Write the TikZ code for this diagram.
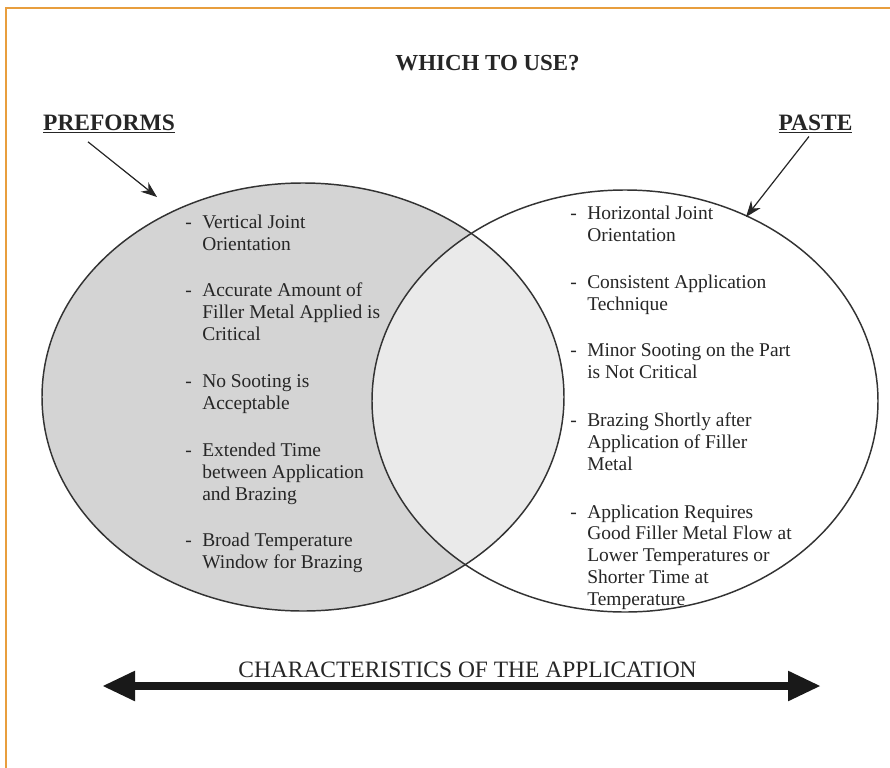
\documentclass[tikz,border=0pt]{standalone}
\usepackage{fontspec}
\setmainfont{Liberation Serif}
\usetikzlibrary{arrows.meta}

\definecolor{venngray}{RGB}{212,212,212}
\definecolor{overlapgray}{RGB}{234,234,234}
\definecolor{frameorange}{RGB}{232,158,62}

\newcommand{\dashitem}{\makebox[12.75pt][l]{-}}
\newcommand{\indentitem}{\hspace*{12.75pt}}

\begin{document}
\begin{tikzpicture}[x=0.75pt, y=-0.75pt,
	every node/.style={inner sep=0pt, text=black!85},
	heading/.style={anchor=base, font=\fontsize{17.6}{20}\selectfont\bfseries},
	point/.style={anchor=base west, align=left, font=\fontsize{14.6}{16.3}\selectfont},
	pointer/.style={-{Stealth[length=12pt,width=9pt]}, line width=0.9pt, black!85},
	ring/.style={draw=black!80, line width=1.1pt}]
					
					\clip (0,0) rectangle (890,768);
					\fill[white] (0,0) rectangle (890,768);
					\draw[frameorange, line width=1.5pt] (5.5,800) -- (5.5,7.5) -- (900,7.5);
					
					% the two sets, the common part a lighter gray
					\fill[venngray] (303,397) ellipse [x radius=261, y radius=214];
					\begin{scope}
						\clip (303,397) ellipse [x radius=261, y radius=214];
						\fill[overlapgray] (625,401) ellipse [x radius=253, y radius=211];
					\end{scope}
					\draw[ring] (303,397) ellipse [x radius=261, y radius=214];
					\draw[ring] (625,401) ellipse [x radius=253, y radius=211];
					
					\node[heading, font=\fontsize{17.2}{20}\selectfont\bfseries] (title) at (487.5,70) {WHICH TO USE?};
					\node[heading] (preforms) at (109,130) {\underline{PREFORMS}};
					\node[heading] (paste) at (815.5,130) {\underline{PASTE}};
					
					\coordinate (preformsTip) at (157,197);
					\coordinate (pasteTip) at (746,217);
					\draw[pointer] ([xshift=-15.75pt, yshift=-6.5pt]preforms.south) -- (preformsTip);
					\draw[pointer] ([xshift=-4.9pt, yshift=-2.5pt]paste.south) -- (pasteTip);
					
					% left set (nodes sit on the baseline of their last line)
					\node[point] (vertical) at (185,250) {\dashitem Vertical Joint\\\indentitem Orientation};
					\node[point] (accurate) at (185,340) {\dashitem Accurate Amount of\\\indentitem Filler Metal Applied is\\\indentitem Critical};
					\node[point] (nosoot) at (185,409) {\dashitem No Sooting is\\\indentitem Acceptable};
					\node[point] (extended) at (185,500) {\dashitem Extended Time\\\indentitem between Application\\\indentitem and Brazing};
					\node[point] (broad) at (185,568) {\dashitem Broad Temperature\\\indentitem Window for Brazing};
					
					% right set
					\node[point] (horizontal) at (570,241) {\dashitem Horizontal Joint\\\indentitem Orientation};
					\node[point] (consistent) at (570,310) {\dashitem Consistent Application\\\indentitem Technique};
					\node[point] (minorsoot) at (570,378) {\dashitem Minor Sooting on the Part\\\indentitem is Not Critical};
					\node[point] (shortly) at (570,470) {\dashitem Brazing Shortly after\\\indentitem Application of Filler\\\indentitem Metal};
					\node[point] (requires) at (570,605) {\dashitem Application Requires\\\indentitem Good Filler Metal Flow at\\\indentitem Lower Temperatures or\\\indentitem Shorter Time at\\\indentitem Temperature};
					
					\node[anchor=base, font=\fontsize{17.6}{20}\selectfont] (characteristics) at (467.5,677) {CHARACTERISTICS OF THE APPLICATION};
					\coordinate (lowEnd) at (103,686);
					\coordinate (highEnd) at (820,686);
					\draw[line width=5.5pt, black!90, {Triangle[length=24pt,width=23pt,line width=0pt]}-{Triangle[length=24pt,width=23pt,line width=0pt]}] (lowEnd) -- (highEnd);
					\end{tikzpicture}
\end{document}
